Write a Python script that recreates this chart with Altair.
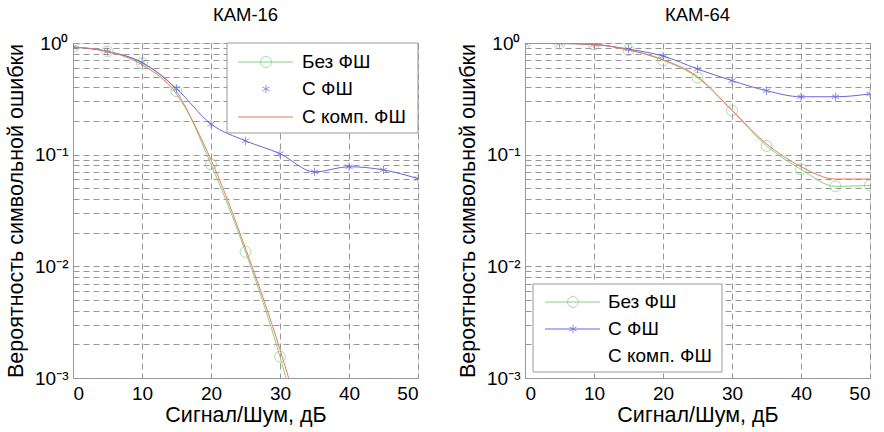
import altair as alt
import pandas as pd

snr = [0, 5, 10, 15, 20, 25, 30, 35, 40, 45, 50]
names = ["Без ФШ", "С ФШ", "С комп. ФШ"]
titles = ["КАМ-16", "КАМ-64"]
x_title = "Сигнал/Шум, дБ"
y_title = "Вероятность символьной ошибки"

# KAM-16
qam16_bez = [0.92, 0.84, 0.66, 0.37, 0.082, 0.0135, 0.00155, 0.0001]
qam16_s = [0.92, 0.84, 0.67, 0.39, 0.188, 0.133, 0.102, 0.070, 0.078, 0.073, 0.061]
qam16_komp = [0.92, 0.84, 0.64, 0.35, 0.09, 0.0145, 0.0018, 0.00015]
# KAM-64
qam64_bez = [0.99, 0.99, 0.97, 0.865, 0.70, 0.49, 0.248, 0.12, 0.074, 0.052, 0.053]
qam64_s = [0.99, 0.99, 0.97, 0.88, 0.765, 0.585, 0.46, 0.374, 0.33, 0.33, 0.35]
qam64_komp = [0.99, 0.99, 0.97, 0.87, 0.71, 0.50, 0.25, 0.125, 0.078, 0.0605, 0.0605]

x_ticks = [0, 10, 20, 30, 40, 50]
y_ticks = [m * d for d in [0.001, 0.01, 0.1] for m in range(1, 10)] + [1]

GREEN = "#86cf86"
BLUE = "#6666dd"
RED = "#e97a5e"
GRID = "#8c8c8c"
FONT = "Liberation Sans"
FS = 19
FS_TITLE = 18.5
FS_AXT = 21.5
FS_LEG = 19
STAR = "M0,-1L0,1M-0.866,-0.5L0.866,0.5M-0.866,0.5L0.866,-0.5"

W, H = 345, 335

label_expr = ("datum.value == 1 ? '10\u2070' : datum.value == 0.1 ? '10\u207b\u00b9' : "
              "datum.value == 0.01 ? '10\u207b\u00b2' : datum.value == 0.001 ? '10\u207b\u00b3' : ''")


def xenc():
    return alt.X("snr:Q", title=x_title,
                 scale=alt.Scale(domain=[0, 50], nice=False),
                 axis=alt.Axis(values=x_ticks, grid=True, gridDash=[6, 4], gridColor=GRID,
                               gridOpacity=0.9, ticks=False, labelPadding=6,
                               labelFontSize=FS, titleFontSize=FS_AXT, titleFontWeight="normal",
                               titlePadding=1, domainColor="#999", labelFont=FONT, titleFont=FONT))


def yenc():
    return alt.Y("p:Q", title=y_title,
                 scale=alt.Scale(type="log", domain=[0.001, 1], nice=False),
                 axis=alt.Axis(values=y_ticks, grid=True, gridDash=[6, 4], gridColor=GRID,
                               gridOpacity=0.9, ticks=False, labelExpr=label_expr,
                               labelFontSize=FS, titleFontSize=FS_AXT, titleFontWeight="normal",
                               labelPadding=5, titlePadding=7, domainColor="#999",
                               labelFont=FONT, titleFont=FONT))


def series(xs, ys):
    return pd.DataFrame({"snr": xs[:len(ys)], "p": ys})


one = pd.DataFrame({"a": [0]})


def legend_layers(box, items, line_x, mark_x, text_x):
    x0, x1, y0, y1 = box
    layers = [alt.Chart(one).mark_rect(fill="white", stroke="#999", strokeWidth=1).encode(
        x=alt.value(x0), x2=alt.value(x1), y=alt.value(y0), y2=alt.value(y1))]
    for (label, y, color, has_line, shape) in items:
        if has_line:
            layers.append(alt.Chart(one).mark_rule(color=color, strokeWidth=1).encode(
                x=alt.value(line_x[0]), x2=alt.value(line_x[1]), y=alt.value(y)))
        if shape is not None:
            layers.append(alt.Chart(one).mark_point(shape=shape, color=color, filled=False,
                                                    size=120 if shape == "circle" else 70,
                                                    strokeWidth=1).encode(
                x=alt.value(mark_x), y=alt.value(y)))
        layers.append(alt.Chart(one).mark_text(align="left", baseline="middle", fontSize=FS_LEG,
                                               font=FONT, color="black").encode(
            x=alt.value(text_x), y=alt.value(y), text=alt.value(label)))
    return layers


def panel(title, bez, s, komp, legend):
    d_bez = series(snr, bez)
    d_s = series(snr, s)
    d_k = series(snr, komp)
    layers = [
        alt.Chart(d_bez).mark_line(color=GREEN, strokeWidth=1, interpolate="monotone", clip=True).encode(x=xenc(), y=yenc()),
        alt.Chart(d_bez).mark_point(shape="circle", color=GREEN, filled=False, size=120, strokeWidth=1, clip=True).encode(x=xenc(), y=yenc()),
        alt.Chart(d_s).mark_line(color=BLUE, strokeWidth=1, interpolate="monotone", clip=True).encode(x=xenc(), y=yenc()),
        alt.Chart(d_s).mark_point(shape=STAR, color=BLUE, filled=False, size=70, strokeWidth=1, clip=True).encode(x=xenc(), y=yenc()),
        alt.Chart(d_k).mark_line(color=RED, strokeWidth=1, interpolate="monotone", clip=True).encode(x=xenc(), y=yenc()),
    ] + legend
    return alt.layer(*layers).properties(
        width=W, height=H,
        title=alt.TitleParams(title, fontSize=FS_TITLE, fontWeight="normal", font=FONT, offset=10))


left_legend = legend_layers((154, 345, 0, 90),
                            [(names[0], 19, GREEN, True, "circle"),
                             (names[1], 46, BLUE, False, STAR),
                             (names[2], 74, RED, True, None)],
                            (165, 220), 193, 229)
right_legend = legend_layers((8, 197, 241, 329),
                             [(names[0], 259, GREEN, True, "circle"),
                              (names[1], 286, BLUE, True, STAR),
                              (names[2], 313, RED, False, None)],
                             (20, 75), 48, 83)

chart = alt.hconcat(
    panel(titles[0], qam16_bez, qam16_s, qam16_komp, left_legend),
    panel(titles[1], qam64_bez, qam64_s, qam64_komp, right_legend),
    spacing=38,
).properties(padding={"left": 5, "top": 5, "right": 5, "bottom": 5}).configure_view(
    stroke="#999", strokeWidth=1
).configure(font=FONT, background="white")

chart.save("out.html", embed_options={"renderer": "svg", "actions": False})
